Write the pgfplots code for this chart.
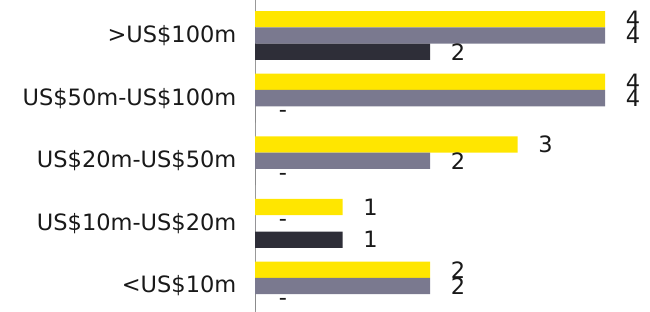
\documentclass[border=0pt]{standalone}
\usepackage{pgfplots}
\pgfplotsset{compat=1.18}
\usepackage{fontspec}
\setmainfont{DejaVu Sans}
\definecolor{eyyellow}{HTML}{FFE600}
\definecolor{eygray}{HTML}{7A798F}
\definecolor{eydark}{HTML}{2E2E38}
\begin{document}
\begin{tikzpicture}[font=\fontsize{22.5}{27}\selectfont]
\useasboundingbox (0,0) rectangle (650pt,312pt);
\begin{axis}[
 at={(255pt,0pt)}, anchor=south west,
 scale only axis, width=393.75pt, height=312pt,
 xmin=0, xmax=4.5, ymin=-0.415, ymax=4.567,
 xbar, bar width=16.3pt, clip=false,
 axis x line=none, axis y line=left,
 y axis line style={-, draw=gray!80},
 ytick={0,1,2,3,4},
 yticklabels={<US\$10m, US\$10m-US\$20m, US\$20m-US\$50m, US\$50m-US\$100m, >US\$100m},
 ytick style={draw=none},
 yticklabel style={xshift=-13pt, text=black!90},
 point meta=explicit symbolic,
 nodes near coords={\pgfplotspointmeta},
 nodes near coords align={center},
 every node near coord/.append style={anchor=center, xshift=28pt, text=black!90},
]
\addplot[fill=eyyellow, draw=none, bar shift=16.3pt] table[meta=l] {
x y l
2 0 2
1 1 1
3 2 3
4 3 4
4 4 4
};
\addplot[fill=eygray, draw=none, bar shift=0pt] table[meta=l] {
x y l
2 0 2
0 1 -
2 2 2
4 3 4
4 4 4
};
\addplot[fill=eydark, draw=none, bar shift=-16.3pt] table[meta=l] {
x y l
0 0 -
1 1 1
0 2 -
0 3 -
2 4 2
};
\end{axis}
\end{tikzpicture}
\end{document}
